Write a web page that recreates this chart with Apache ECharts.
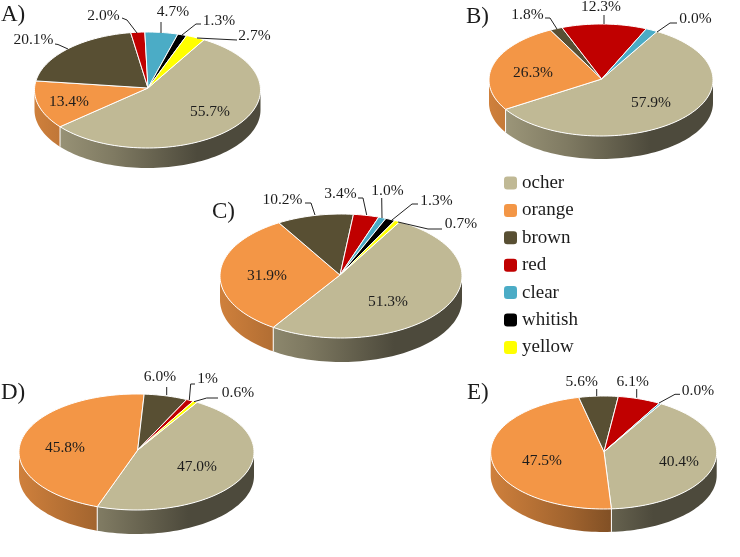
<!DOCTYPE html>
<html>
<head>
<meta charset="utf-8">
<style>
  html, body { margin: 0; padding: 0; background: #fff; }
  #chart { width: 740px; height: 557px; }
</style>
<script src="https://cdn.jsdelivr.net/npm/echarts@6/dist/echarts.min.js"></script>
</head>
<body>
<div id="chart"></div>
<script>
const panelLetters = ['A)', 'B)', 'C)', 'D)', 'E)']
const categories = ['ocher', 'orange', 'brown', 'red', 'clear', 'whitish', 'yellow']

// share of each colour per panel, A to E
const ocher = [55.7, 57.9, 51.3, 47.0, 40.4]
const orange = [13.4, 26.3, 31.9, 45.8, 47.5]
const brown = [20.1, 1.8, 10.2, 6.0, 5.6]
const red = [2.0, 12.3, 3.4, 1.0, 6.1]
const clear = [4.7, 1.7, 1.0, 0, 0.3]
const whitish = [1.3, 0, 1.3, 0, 0]
const yellow = [2.7, 0, 0.7, 0.6, 0]

// printed labels, they differ from the drawn slice in a few places
const ocherLabels = ['55.7%', '57.9%', '51.3%', '47.0%', '40.4%']
const orangeLabels = ['13.4%', '26.3%', '31.9%', '45.8%', '47.5%']
const brownLabels = ['20.1%', '1.8%', '10.2%', '6.0%', '5.6%']
const redLabels = ['2.0%', '12.3%', '3.4%', '1%', '6.1%']
const clearLabels = ['4.7%', '0.0%', '1.0%', '', '0.0%']
const whitishLabels = ['1.3%', '', '1.3%', '', '']
const yellowLabels = ['2.7%', '', '0.7%', '0.6%', '']

const values = [ocher, orange, brown, red, clear, whitish, yellow]
const labels = [ocherLabels, orangeLabels, brownLabels, redLabels, clearLabels, whitishLabels, yellowLabels]
const colors = ['#C0B995', '#F39646', '#584F33', '#C00000', '#4BACC6', '#000000', '#FFFF00']

// ellipse geometry of each pie. start = clockwise degrees from north
const layout = [
  { cx: 147.5, cy: 90, rx: 113, ry: 58, ax: 148, ay: 88, depth: 20, start: 30 },
  { cx: 601, cy: 80, rx: 112, ry: 56, ax: 601.7, ay: 79, depth: 23, start: 30 },
  { cx: 341, cy: 276, rx: 121, ry: 62, ax: 340, ay: 275, depth: 24, start: 29 },
  { cx: 136.5, cy: 452, rx: 117.5, ry: 58, ax: 137.7, ay: 450, depth: 24, start: 31 },
  { cx: 603.7, cy: 452.5, rx: 113, ry: 56.5, ax: 604, ay: 451.7, depth: 23, start: 30.5 }
]
const letterSpots = [[1, 15], [466, 17], [212, 212], [1, 393], [467, 393]]

// [text centre x, y, leader points] by category then panel
const labelSpots = {
  ocher: [[210, 112], [651, 103], [388, 302], [197, 467], [679, 462]],
  orange: [[69, 102], [533, 73], [267, 276], [65, 448], [542, 461]],
  brown: [
    [33.5, 40, [[55, 44], [58, 44.5], [68, 49]]],
    [527.5, 15, [[545, 18], [550, 18], [557, 29]]],
    [282.5, 200, [[305, 203], [311, 203], [315, 215]]],
    [160, 377, [[166.7, 387], [166.7, 395]]],
    [581.7, 382, [[596.7, 389], [596.7, 396]]]
  ],
  red: [
    [103.5, 16, [[122, 18], [127, 20], [137, 33]]],
    [601, 7, [[604, 15], [604, 24]]],
    [340.5, 194, [[358, 198], [363, 198], [366.7, 215]]],
    [207.5, 379, [[195, 384], [190.7, 384], [189.3, 400]]],
    [632.7, 382, [[636.7, 389], [636.7, 397.7]]]
  ],
  clear: [
    [173, 12, [[161, 22], [161, 33]]],
    [695.5, 19, [[677, 23], [670, 23], [657, 32]]],
    [387.5, 191, [[381.7, 198], [382, 218]]],
    null,
    [698, 391, [[680, 394.3], [675, 394.3], [659, 403]]]
  ],
  whitish: [
    [219, 21, [[201, 24], [196, 24], [182, 35]]],
    null,
    [436.5, 201, [[418, 204], [412, 204], [392, 220]]],
    null,
    null
  ],
  yellow: [
    [254.5, 36, [[237, 40], [197, 38]]],
    null,
    [461, 224, [[442, 229], [428, 229], [398, 222]]],
    [238, 393, [[218, 398], [206.7, 398], [194, 401.7]]],
    null
  ]
}

function shade(hex, k) {
  const n = parseInt(hex.slice(1), 16)
  const c = [n >> 16, (n >> 8) & 255, n & 255].map(v => Math.round(v * k))
  return 'rgb(' + c.join(',') + ')'
}

function rimPoint(p, deg, dy) {
  const a = deg * Math.PI / 180
  return [p.cx + p.rx * Math.sin(a), p.cy - p.ry * Math.cos(a) + dy]
}

function arc(p, from, to, dy) {
  const pts = []
  const steps = Math.max(2, Math.ceil(Math.abs(to - from) / 2))
  for (let i = 0; i <= steps; i++) {
    pts.push(rimPoint(p, from + (to - from) * i / steps, dy))
  }
  return pts
}

function renderSlice(catIndex) {
  return function(params) {
    const panel = params.dataIndex
    const p = layout[panel]
    const column = values.map(v => v[panel])
    const total = column.reduce((a, b) => a + b, 0)
    const before = column.slice(0, catIndex).reduce((a, b) => a + b, 0)
    const a0 = p.start + before / total * 360
    const a1 = a0 + column[catIndex] / total * 360
    const color = colors[catIndex]
    const children = []

    if (column[catIndex] > 0) {
      // side wall, only the front half of the rim shows
      const w0 = Math.max(a0, 90)
      const w1 = Math.min(a1, 270)
      if (w1 > w0) {
        children.push({
          type: 'polygon',
          shape: { points: arc(p, w0, w1, 0).concat(arc(p, w1, w0, p.depth)) },
          style: {
            fill: {
              type: 'linear',
              global: true,
              x: p.cx - p.rx,
              y: 0,
              x2: p.cx + p.rx,
              y2: 0,
              colorStops: [
                { offset: 0, color: shade(color, 0.85) },
                { offset: 0.35, color: shade(color, 0.66) },
                { offset: 0.55, color: shade(color, 0.52) },
                { offset: 0.72, color: shade(color, 0.4) },
                { offset: 1, color: shade(color, 0.4) }
              ]
            }
          }
        })
        if (a0 >= 90 && a0 <= 270) {
          const top = rimPoint(p, a0, 0)
          children.push({
            type: 'line',
            shape: { x1: top[0], y1: top[1], x2: top[0], y2: top[1] + p.depth },
            style: { stroke: '#fff', lineWidth: 1 }
          })
        }
      }
      children.push({
        type: 'polygon',
        shape: { points: [[p.ax, p.ay]].concat(arc(p, a0, a1, 0)) },
        style: { fill: color, stroke: '#fff', lineWidth: 1, lineJoin: 'round' }
      })
    }

    const spot = labelSpots[categories[catIndex]][panel]
    if (spot) {
      if (spot[2]) {
        children.push({
          type: 'polyline',
          z2: 5,
          shape: { points: spot[2] },
          style: { fill: 'none', stroke: '#222', lineWidth: 1 }
        })
      }
      children.push({
        type: 'text',
        z2: 6,
        style: {
          x: spot[0],
          y: spot[1],
          text: labels[catIndex][panel],
          fill: '#1c1c1c',
          font: '15.5px "Liberation Serif"',
          align: 'center',
          verticalAlign: 'middle'
        }
      })
    }
    return { type: 'group', children }
  }
}

const chart = echarts.init(document.getElementById('chart'))
chart.setOption({
  animation: false,
  backgroundColor: '#fff',
  legend: {
    data: categories,
    orient: 'vertical',
    left: 504,
    top: 172,
    padding: 0,
    itemWidth: 13,
    itemHeight: 13,
    itemGap: 5.4,
    selectedMode: false,
    icon: 'roundRect',
    textStyle: { fontFamily: 'Liberation Serif', fontSize: 19, color: '#1c1c1c', lineHeight: 22 }
  },
  graphic: panelLetters.map((t, i) => ({
    type: 'text',
    x: letterSpots[i][0],
    y: letterSpots[i][1],
    style: {
      text: t,
      fill: '#1c1c1c',
      font: '23px "Liberation Serif"',
      verticalAlign: 'middle'
    }
  })),
  series: categories.map((name, i) => ({
    name,
    type: 'custom',
    coordinateSystem: 'none',
    silent: true,
    itemStyle: { color: colors[i] },
    renderItem: renderSlice(i),
    data: values[i]
  }))
})
</script>
</body>
</html>
